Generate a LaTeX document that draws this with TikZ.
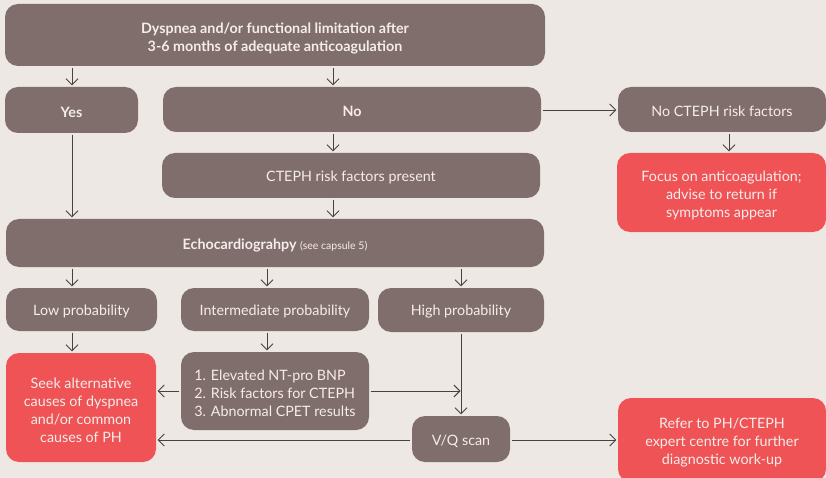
\documentclass[tikz,border=0pt]{standalone}
\usepackage{fontspec}
\setmainfont{Lato}
\usetikzlibrary{arrows.meta,calc}
\definecolor{bg}{HTML}{EDE8E4}
\definecolor{boxc}{HTML}{806E6D}
\definecolor{redc}{HTML}{EF5355}
\definecolor{txt}{HTML}{F5EDEB}
\definecolor{linec}{HTML}{4A4040}
\begin{document}
\begin{tikzpicture}[x=1pt,y=-1pt,
  box/.style 2 args={fill=boxc, rounded corners=13pt, minimum width=#1pt, minimum height=#2pt,
    inner sep=0pt},
  rbox/.style 2 args={box={#1}{#2}, fill=redc},
  tx/.style={inner sep=0pt, text=txt, align=center, font=\fontsize{14.3}{18}\selectfont},
  bold/.style={tx, font=\fontsize{14.3}{18}\selectfont\bfseries},
  arr/.style={draw=linec, line width=0.9pt, -{Straight Barb[length=6pt,width=12pt]},
    shorten >=1.5pt, shorten <=1.5pt}]
\useasboundingbox (0,0) rectangle (826,478);
\clip (0,0) rectangle (826,478);
\fill[bg] (0,0) rectangle (826,478);

% boxes
\node[box={540}{62}] (top) at (275,35) {};
\node[box={133}{46}] (yes) at (71.5,110) {};
\node[box={378}{45}] (no) at (352,109.5) {};
\node[box={208}{45}] (norisk) at (722,109.5) {};
\node[rbox={209}{79}] (focus) at (721.5,192.5) {};
\node[box={378}{45}] (present) at (351,175.5) {};
\node[box={538}{48}] (echo) at (275,243) {};
\node[box={151}{43}] (low) at (81.5,309.5) {};
\node[box={188}{43}] (inter) at (275,309.5) {};
\node[box={166}{44}] (high) at (461,310) {};
\node[rbox={150}{109}] (seek) at (81,407.5) {};
\node[box={188}{78}] (list) at (275,391) {};
\node[box={98}{46}] (vq) at (461,439) {};
\node[rbox={208}{84}] (refer) at (722,440) {};

% texts
\node[bold] (top-t) at ([yshift=-3.5pt]top.center)
  {Dyspnea and/or functional limitation after\\3-6 months of adequate anticoagulation};
\node[bold] (yes-t) at ([yshift=-2pt]yes.center) {Yes};
\node[bold] (no-t) at ([yshift=-2pt]no.center) {No};
\node[tx] (norisk-t) at ([yshift=-2pt]norisk.center) {No CTEPH risk factors};
\node[tx] (focus-t) at ([yshift=-2.5pt]focus.center) {Focus on anticoagulation;\\advise to return if\\symptoms appear};
\node[tx] (present-t) at ([yshift=-2pt]present.center) {CTEPH risk factors present};
\node[tx] (echo-t) at ([yshift=-2pt]echo.center) {\textbf{Echocardiograhpy} {\fontsize{10.5}{12}\selectfont(see capsule 5)}};
\node[tx] (low-t) at ([yshift=-2pt]low.center) {Low probability};
\node[tx] (inter-t) at ([yshift=-2pt]inter.center) {Intermediate probability};
\node[tx] (high-t) at ([yshift=-2pt]high.center) {High probability};
\node[tx] (seek-t) at ([yshift=-3pt]seek.center) {Seek alternative\\causes of dyspnea\\and/or common\\causes of PH};
\node[tx, align=left] (list-t) at ([yshift=-2.5pt]list.center) {1. Elevated NT-pro BNP\\2. Risk factors for CTEPH\\3. Abnormal CPET results};
\node[tx] (vq-t) at ([yshift=-2pt]vq.center) {V/Q scan};
\node[tx] (refer-t) at ([yshift=-2.5pt]refer.center) {Refer to PH/CTEPH\\expert centre for further\\diagnostic work-up};

\coordinate (cx1) at (72,0);
\coordinate (cx2) at (333,0);
\coordinate (cx3) at (267,0);
\coordinate (cx4) at (461,0);
\coordinate (cx5) at (729,0);
\coordinate (cy1) at (0,391);
\coordinate (cy2) at (0,440);
\coordinate (cy3) at (0,110);

\draw[arr] (top.south -| cx1) -- (yes.north -| cx1);
\draw[arr] (top.south -| cx2) -- (no.north -| cx2);
\draw[arr] (no.east |- cy3) -- (norisk.west |- cy3);
\draw[arr] (norisk.south -| cx5) -- (focus.north -| cx5);
\draw[arr] (no.south -| cx2) -- (present.north -| cx2);
\draw[arr] (present.south -| cx2) -- (echo.north -| cx2);
\draw[arr] (yes.south -| cx1) -- (echo.north -| cx1);
\draw[arr] (echo.south -| cx1) -- (low.north -| cx1);
\draw[arr] (echo.south -| cx3) -- (inter.north -| cx3);
\draw[arr] (echo.south -| cx4) -- (high.north -| cx4);
\draw[arr] (low.south -| cx1) -- (seek.north -| cx1);
\draw[arr] (inter.south -| cx3) -- (list.north -| cx3);
\draw[arr] (list.west |- cy1) -- (seek.east |- cy1);
\coordinate (join) at (cx4 |- cy1);
\draw[arr, shorten >=0.5pt] (list.east |- cy1) -- (join);
\draw[arr] (high.south -| cx4) -- (vq.north -| cx4);
\draw[arr] (vq.west |- cy2) -- (seek.east |- cy2);
\draw[arr] (vq.east |- cy2) -- (refer.west |- cy2);
\end{tikzpicture}
\end{document}
